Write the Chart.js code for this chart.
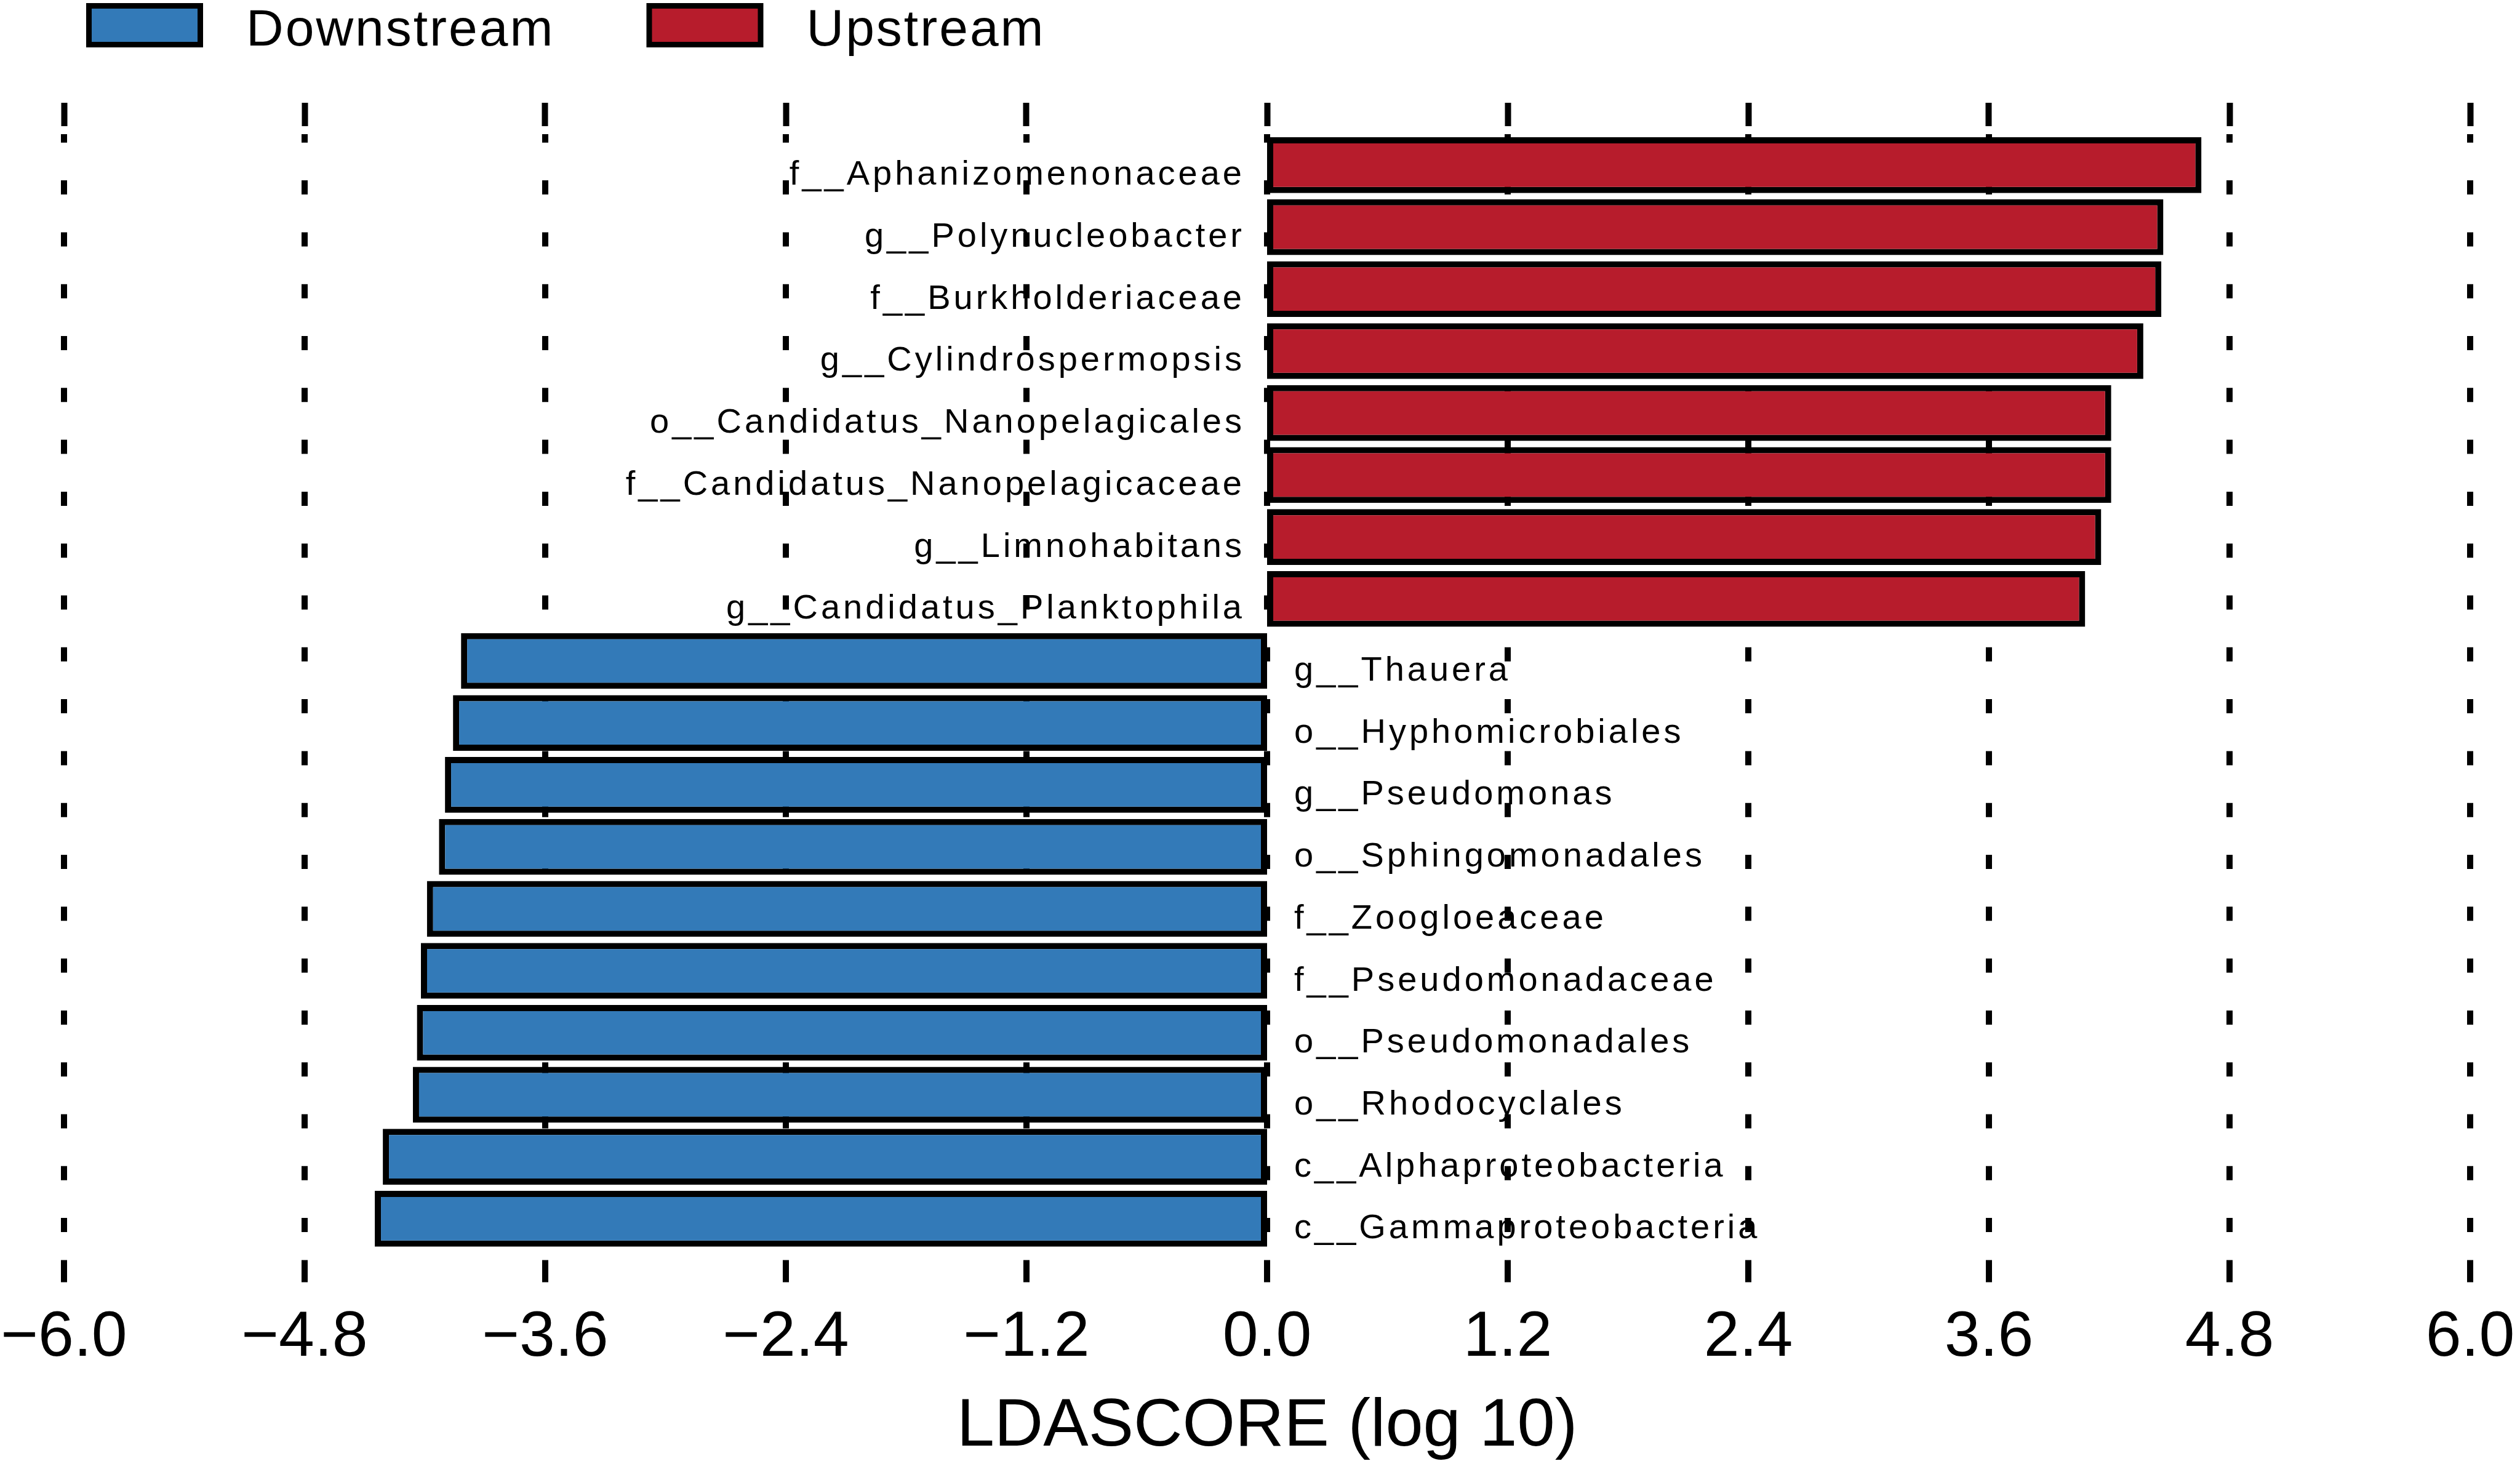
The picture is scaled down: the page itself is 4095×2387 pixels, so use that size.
<!DOCTYPE html>
<html>
<head>
<meta charset="utf-8">
<title>LDA score</title>
<script src="https://cdn.jsdelivr.net/npm/chart.js@4.4.1/dist/chart.umd.min.js"></script>
<style>
  html, body { margin: 0; padding: 0; background: #fff; }
  #wrap { width: 4095px; height: 2387px; position: relative; }
</style>
</head>
<body>
<div id="wrap"><canvas id="lda"></canvas></div>
<script>
// Data
const upstreamLabels = [
  'f__Aphanizomenonaceae',
  'g__Polynucleobacter',
  'f__Burkholderiaceae',
  'g__Cylindrospermopsis',
  'o__Candidatus_Nanopelagicales',
  'f__Candidatus_Nanopelagicaceae',
  'g__Limnohabitans',
  'g__Candidatus_Planktophila'
];
const upstreamScores = [4.66, 4.47, 4.46, 4.37, 4.21, 4.21, 4.16, 4.08];

const downstreamLabels = [
  'g__Thauera',
  'o__Hyphomicrobiales',
  'g__Pseudomonas',
  'o__Sphingomonadales',
  'f__Zoogloeaceae',
  'f__Pseudomonadaceae',
  'o__Pseudomonadales',
  'o__Rhodocyclales',
  'c__Alphaproteobacteria',
  'c__Gammaproteobacteria'
];
const downstreamScores = [-4.02, -4.06, -4.10, -4.13, -4.19, -4.22, -4.24, -4.26, -4.41, -4.45];

const tickValues = [-6.0, -4.8, -3.6, -2.4, -1.2, 0.0, 1.2, 2.4, 3.6, 4.8, 6.0];

const categories = upstreamLabels.concat(downstreamLabels);
const nUp = upstreamLabels.length;

const FONT = '"Liberation Sans", Arial, Helvetica, sans-serif';
const RED = '#B71C2C';
const BLUE = '#337AB8';

// taxon names beside the zero line
const barLabels = {
  id: 'barLabels',
  afterDatasetsDraw(chart) {
    const ctx = chart.ctx;
    const xs = chart.scales.x, ys = chart.scales.y;
    const x0 = xs.getPixelForValue(0);
    ctx.save();
    ctx.font = '56px ' + FONT;
    ctx.fillStyle = '#000';
    ctx.textBaseline = 'alphabetic';
    if ('letterSpacing' in ctx) ctx.letterSpacing = '5px';
    categories.forEach((name, i) => {
      const y = ys.getPixelForValue(i) + 32;
      if (i < nUp) {
        ctx.textAlign = 'right';
        ctx.fillText(name, x0 - 36, y);
      } else {
        ctx.textAlign = 'left';
        ctx.fillText(name, x0 + 44, y);
      }
    });
    ctx.restore();
  }
};

// legend drawn in the top strip
const topLegend = {
  id: 'topLegend',
  afterDraw(chart) {
    const ctx = chart.ctx;
    ctx.save();
    ctx.font = '84px ' + FONT;
    ctx.textAlign = 'left';
    ctx.textBaseline = 'alphabetic';
    if ('letterSpacing' in ctx) ctx.letterSpacing = '3px';
    let x = 140;
    chart.data.datasets.forEach(ds => {
      ctx.fillStyle = '#000';
      ctx.fillRect(x, 5, 190, 72);
      ctx.fillStyle = ds.backgroundColor;
      ctx.fillRect(x + 9, 14, 172, 54);
      ctx.fillStyle = '#000';
      ctx.fillText(ds.label, x + 260, 74);
      x += 260 + ctx.measureText(ds.label).width + 149;
    });
    ctx.restore();
  }
};

function setTicks(scale) {
  scale.ticks = tickValues.map(v => ({ value: v }));
}

const ctx = document.getElementById('lda');
const chart = new Chart(ctx, {
  type: 'bar',
  data: {
    labels: categories,
    datasets: [
      {
        label: 'Downstream',
        data: categories.map((c, i) => i < nUp ? null : downstreamScores[i - nUp]),
        backgroundColor: BLUE,
        base: 1e-9
      },
      {
        label: 'Upstream',
        data: categories.map((c, i) => i < nUp ? upstreamScores[i] : null),
        backgroundColor: RED,
        base: 1e-9
      }
    ]
  },
  options: {
    indexAxis: 'y',
    responsive: true,
    maintainAspectRatio: false,
    animation: false,
    devicePixelRatio: 1,
    layout: { padding: { left: 104, right: 81, top: 167, bottom: 0 } },
    datasets: {
      bar: {
        grouped: false,
        borderColor: '#000',
        borderWidth: 10,
        borderSkipped: false,
        barPercentage: 0.9,
        categoryPercentage: 1.0
      }
    },
    plugins: {
      legend: { display: false },
      tooltip: { enabled: false }
    },
    scales: {
      y: {
        display: false,
        offset: true
      },
      x: {
        position: 'bottom',
        min: -6,
        max: 6,
        z: 1,
        afterBuildTicks: setTicks,
        grid: {
          color: '#000',
          lineWidth: 10,
          drawTicks: true,
          tickLength: 81.5,
          tickWidth: 10,
          tickColor: '#000',
          tickBorderDash: [36, 45.5],
          tickBorderDashOffset: 65
        },
        border: { display: false, dash: [23, 61.3], dashOffset: 9.2 },
        ticks: {
          color: '#000',
          font: { family: FONT, size: 104 },
          padding: 0,
          maxRotation: 0,
          autoSkip: false,
          callback: v => {
            const s = Math.abs(Number(v)).toFixed(1);
            return v < 0 ? '\u2212' + s : s;
          }
        },
        title: {
          display: true,
          text: 'LDASCORE (log 10)',
          color: '#000',
          font: { family: FONT, size: 110 },
          padding: { top: 16, bottom: 2 }
        }
      },
      xTop: {
        axis: 'x',
        position: 'top',
        min: -6,
        max: 6,
        z: 1,
        afterBuildTicks: setTicks,
        grid: {
          drawOnChartArea: false,
          drawTicks: true,
          tickLength: 51,
          tickWidth: 10,
          tickColor: '#000',
          tickBorderDash: [38, 100],
          tickBorderDashOffset: 0
        },
        border: { display: false },
        ticks: { display: false }
      }
    }
  },
  plugins: [barLabels, topLegend]
});
</script>
</body>
</html>
